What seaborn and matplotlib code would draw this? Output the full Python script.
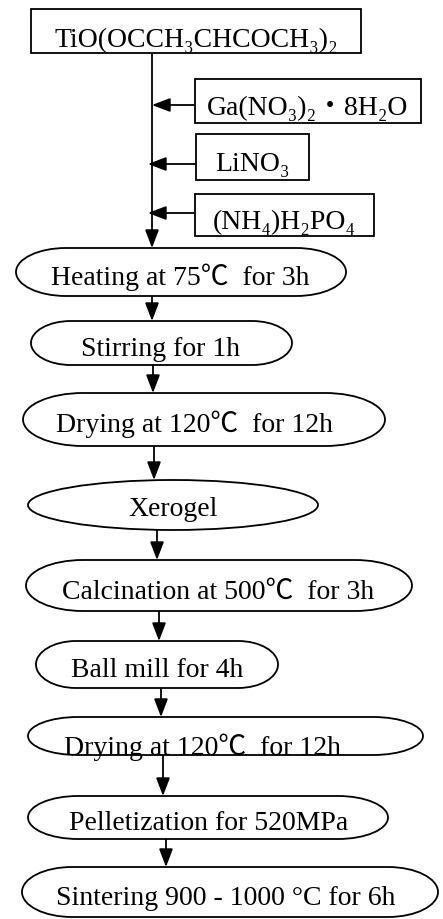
import matplotlib
matplotlib.use("Agg")
import matplotlib.pyplot as plt
from matplotlib.path import Path
from matplotlib.patches import PathPatch, Rectangle
import seaborn as sns

# flowchart text, top to bottom
start_label = "TiO(OCCH₃CHCOCH₃)₂"
additive_labels = ["Ga(NO₃)₂・8H₂O", "LiNO₃", "(NH₄)H₂PO₄"]
step_labels = [
    "Heating at 75℃  for 3h",
    "Stirring for 1h",
    "Drying at 120℃  for 12h",
    "Xerogel",
    "Calcination at 500℃  for 3h",
    "Ball mill for 4h",
    "Drying at 120℃  for 12h",
    "Pelletization for 520MPa",
    "Sintering 900 - 1000 °C for 6h",
]

# layout in pixels, y grows downward
start_box = (31, 10, 330, 44)
additive_boxes = [(195, 80, 226, 44), (196, 135, 113, 46), (195, 195, 179, 42)]
additive_arrow_y = [106, 165, 214]
additive_tip_x = [152, 148, 148]
main_x = 152
step_x0 = [16, 31, 23, 28, 26, 36, 28, 28, 22]
step_x1 = [346, 292, 385, 318, 412, 278, 423, 388, 438]
step_y0 = [249, 322, 394, 481, 561, 642, 718, 797, 868]
step_y1 = [297, 366, 447, 531, 612, 689, 756, 840, 918]
step_rx = [50, 40, 60, 145, 57, 40, 50, 50, 50]
text_x = [180, 161, 194, 173, 218, 157, 202, 209, 226]
text_dy = [12, 12, 12, 10, 12, 12, 18, 12, 12]
# the original text frames cut some descenders off
text_clip_y = [288, 358, None, None, None, None, 756, None, None]
arrow_x = [152, 153, 154, 157, 159, 161, 163, 166]

FS = 20
LW = 1.3


def pill(ax, x0, y0, x1, y1, rx):
    """rounded box with elliptical ends"""
    ry = (y1 - y0) / 2
    k = 0.5523
    verts = [
        (x0 + rx, y0), (x1 - rx, y0),
        (x1 - rx + k * rx, y0), (x1, y0 + ry - k * ry), (x1, y0 + ry),
        (x1, y0 + ry + k * ry), (x1 - rx + k * rx, y1), (x1 - rx, y1),
        (x0 + rx, y1),
        (x0 + rx - k * rx, y1), (x0, y1 - ry + k * ry), (x0, y1 - ry),
        (x0, y0 + ry - k * ry), (x0 + rx - k * rx, y0), (x0 + rx, y0),
        (x0 + rx, y0),
    ]
    codes = ([Path.MOVETO, Path.LINETO] + [Path.CURVE4] * 6 + [Path.LINETO]
             + [Path.CURVE4] * 6 + [Path.CLOSEPOLY])
    ax.add_patch(PathPatch(Path(verts, codes), facecolor="white",
                           edgecolor="black", lw=LW, zorder=2))


def arrow(ax, tail, tip):
    ax.annotate("", xy=tip, xytext=tail, zorder=1,
                arrowprops=dict(arrowstyle="-|>,head_length=0.55,head_width=0.21",
                                mutation_scale=20, color="black", lw=LW,
                                shrinkA=0, shrinkB=0))


sns.set_theme(style="white")
plt.rcParams['font.family'] = ['Liberation Serif', 'Noto Sans CJK SC', 'DejaVu Serif']
plt.rcParams['text.color'] = 'black'

fig = plt.figure(figsize=(4.43, 9.2), dpi=100)
ax = fig.add_axes([0, 0, 1, 1])
ax.set_xlim(0, 443)
ax.set_ylim(920, 0)
ax.axis("off")

# starting precursor
x, y, w, h = start_box
ax.add_patch(Rectangle((x, y), w, h, facecolor="white", edgecolor="black", lw=LW, zorder=2))
ax.text(x + w / 2, y + h / 2 + 15, start_label, ha="center", va="baseline",
        fontsize=FS, zorder=3)

# main line into the first step
arrow(ax, (main_x, y + h), (main_x, step_y0[0]))

# additives joining from the right
for label, (bx, by, bw, bh), ay, tx in zip(additive_labels, additive_boxes,
                                            additive_arrow_y, additive_tip_x):
    ax.add_patch(Rectangle((bx, by), bw, bh, facecolor="white", edgecolor="black",
                           lw=LW, zorder=2))
    ax.text(bx + bw / 2, by + bh / 2 + 13, label, ha="center", va="baseline",
            fontsize=FS, zorder=3)
    arrow(ax, (bx, ay), (tx, ay))

# process steps
for i, label in enumerate(step_labels):
    pill(ax, step_x0[i], step_y0[i], step_x1[i], step_y1[i], step_rx[i])
    cy = (step_y0[i] + step_y1[i]) / 2
    t = ax.text(text_x[i], cy + text_dy[i], label, ha="center", va="baseline",
                fontsize=FS, zorder=3)
    if text_clip_y[i] is not None:
        clip = Rectangle((0, step_y0[i]), 443, text_clip_y[i] - step_y0[i],
                         transform=ax.transData, fill=False, visible=False)
        t.set_clip_path(clip)
    if i < len(step_labels) - 1:
        arrow(ax, (arrow_x[i], step_y1[i]), (arrow_x[i], step_y0[i + 1]))

fig.savefig("out.png", dpi=100)
